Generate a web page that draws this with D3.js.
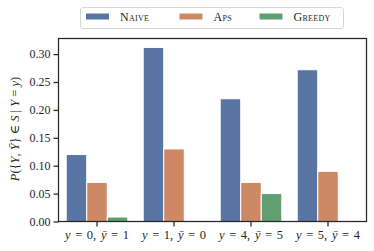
<!DOCTYPE html>
<html>
<head>
<meta charset="utf-8">
<script src="https://cdn.jsdelivr.net/npm/d3@7"></script>
<style>
  body { margin: 0; background: #fff; }
  text { font-family: "Liberation Serif", "DejaVu Serif", serif; fill: #262626; }
</style>
</head>
<body>
<svg id="chart" width="374" height="251"></svg>
<script>
// chart data
const categories = ["c0", "c1", "c2", "c3"];
const catLabels = [["0", "1"], ["1", "0"], ["4", "5"], ["5", "4"]];
const methods = ["Naive", "Aps", "Greedy"];
const naive = [0.12, 0.312, 0.22, 0.272];
const aps = [0.07, 0.13, 0.07, 0.09];
const greedy = [0.008, 0, 0.05, 0];
const yTicks = [0, 0.05, 0.10, 0.15, 0.20, 0.25, 0.30];
const colors = ["#5875a4", "#cc8963", "#5f9e6e"];

const series = [naive, aps, greedy];

const svg = d3.select("#chart");
const margin = { top: 38.5, right: 7.5, bottom: 29.5, left: 58.5 };
const width = 374 - margin.left - margin.right;
const height = 251 - margin.top - margin.bottom;

const x = d3.scaleBand()
  .domain(categories)
  .range([0, width])
  .paddingInner(0.2)
  .paddingOuter(0.1);

const xSub = d3.scaleBand()
  .domain(methods)
  .range([0, x.bandwidth()]);

const y = d3.scaleLinear()
  .domain([0, 0.328])
  .range([height, 0]);

const g = svg.append("g")
  .attr("transform", `translate(${margin.left},${margin.top})`);

// bars
methods.forEach((m, i) => {
  g.append("g")
    .selectAll("rect")
    .data(series[i])
    .join("rect")
    .attr("x", (d, j) => x(categories[j]) + xSub(m))
    .attr("y", d => y(d))
    .attr("width", xSub.bandwidth())
    .attr("height", d => height - y(d))
    .attr("fill", colors[i])
    .attr("stroke", "#fff")
    .attr("stroke-width", 1);
});

// y axis
const yAxis = g.append("g")
  .call(d3.axisLeft(y).tickValues(yTicks).tickFormat(d3.format(".2f")).tickSize(5).tickPadding(3));
yAxis.select(".domain").remove();
yAxis.selectAll("line").attr("stroke", "#262626").attr("stroke-width", 1.25);
yAxis.selectAll("text").attr("font-size", 12).attr("font-family", "Liberation Serif").attr("fill", "#333");

// x axis
const xAxis = g.append("g")
  .attr("transform", `translate(0,${height})`)
  .call(d3.axisBottom(x).tickSize(5).tickFormat(""));
xAxis.select(".domain").remove();
xAxis.selectAll("line").attr("stroke", "#262626").attr("stroke-width", 1.25);

// x tick labels with math style
g.append("g")
  .selectAll("text")
  .data(categories)
  .join("text")
  .attr("x", d => x(d) + x.bandwidth() / 2)
  .attr("y", height + 17.5)
  .attr("text-anchor", "middle")
  .attr("font-size", 12.5)
  .attr("fill", "#333")
  .style("word-spacing", "1.5px")
  .each(function (d, i) {
    const t = d3.select(this);
    t.append("tspan").attr("font-style", "italic").text("y");
    t.append("tspan").text(" = " + catLabels[i][0] + ", ");
    t.append("tspan").attr("font-style", "italic").text("\u0233");
    t.append("tspan").text(" = " + catLabels[i][1]);
  });

// frame
g.append("rect")
  .attr("width", width)
  .attr("height", height)
  .attr("fill", "none")
  .attr("stroke", "#262626")
  .attr("stroke-width", 1.25);

// y label
const yl = svg.append("text")
  .attr("transform", `translate(18.5,${margin.top + height / 2 - 1}) rotate(-90)`)
  .attr("text-anchor", "middle")
  .attr("font-size", 12.5)
  .attr("fill", "#333");
yl.append("tspan").attr("font-style", "italic").text("P");
yl.append("tspan").text("({");
yl.append("tspan").attr("font-style", "italic").text("Y");
yl.append("tspan").text(", ");
yl.append("tspan").attr("font-style", "italic").text("Y\u0304");
yl.append("tspan").text("} \u2208 ");
yl.append("tspan").attr("font-style", "italic").text("S");
yl.append("tspan").text(" | ");
yl.append("tspan").attr("font-style", "italic").text("Y");
yl.append("tspan").text(" = ");
yl.append("tspan").attr("font-style", "italic").text("y");
yl.append("tspan").text(")");

// legend
const legend = svg.append("g");
legend.append("rect")
  .attr("x", 80.5).attr("y", 7.5)
  .attr("width", 263).attr("height", 21)
  .attr("rx", 2.5)
  .attr("fill", "#fff")
  .attr("stroke", "#d6d6d6")
  .attr("stroke-width", 1);
const legX = [86, 179.5, 259.5];
methods.forEach((m, i) => {
  legend.append("rect")
    .attr("x", legX[i]).attr("y", 13.5)
    .attr("width", 23).attr("height", 6)
    .attr("fill", colors[i]);
  legend.append("text")
    .attr("x", legX[i] + 34).attr("y", 21)
    .attr("font-size", 12)
    .attr("fill", "#333")
    .style("font-variant", "small-caps")
    .style("letter-spacing", "0.3px")
    .text(m);
});
</script>
</body>
</html>
